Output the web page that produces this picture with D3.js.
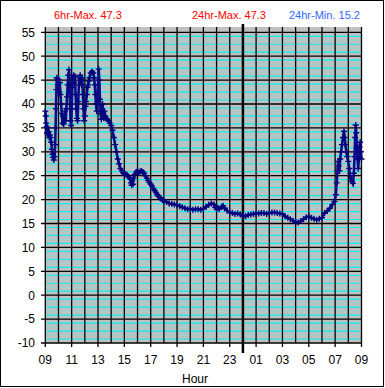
<!DOCTYPE html>
<html>
<head>
<meta charset="utf-8">
<script src="https://cdn.jsdelivr.net/npm/d3@7"></script>
<style>
  body { margin:0; background:#fff; }
  text { font-family: "Liberation Sans", Arial, sans-serif; }
</style>
</head>
<body>
<svg id="chart" width="385" height="388"></svg>
<script>

// hours since 09:00, and temperature readings
let hours = [
  0.00,0.03,0.06,0.10,0.13,0.17,0.20,0.25,0.30,0.35,0.40,0.45,0.50,0.55,0.60,0.65,0.70,0.75,0.78,0.81,
  0.84,0.87,0.90,0.95,1.00,1.05,1.10,1.15,1.20,1.25,1.30,1.35,1.40,1.45,1.50,1.55,1.60,1.65,1.70,1.75,
  1.80,1.85,1.88,1.92,1.96,2.00,2.05,2.10,2.15,2.20,2.25,2.30,2.35,2.40,2.45,2.50,2.55,2.60,2.65,2.70,
  2.75,2.80,2.85,2.90,2.95,3.00,3.05,3.10,3.15,3.20,3.25,3.30,3.35,3.45,3.55,3.65,3.70,3.75,3.80,3.85,
  3.90,3.95,4.00,4.05,4.10,4.15,4.20,4.25,4.30,4.35,4.40,4.45,4.50,4.55,4.60,4.70,4.80,4.90,5.00,5.10,
  5.20,5.30,5.40,5.50,5.60,5.70,5.80,5.90,6.00,6.10,6.20,6.30,6.40,6.50,6.55,6.60,6.65,6.70,6.80,6.90,
  7.00,7.10,7.20,7.30,7.40,7.50,7.60,7.70,7.80,7.90,8.00,8.10,8.20,8.30,8.40,8.50,8.60,8.70,8.80,8.90,
  9.00,9.20,9.40,9.60,9.80,10.00,10.20,10.40,10.60,10.80,11.00,11.20,11.40,11.60,11.80,12.00,12.20,12.40,12.60,12.80,
  12.90,13.00,13.10,13.20,13.40,13.50,13.60,13.80,14.00,14.20,14.40,14.60,14.80,15.00,15.20,15.40,15.60,15.80,16.00,16.20,
  16.40,16.60,16.80,17.00,17.20,17.40,17.60,17.80,18.00,18.20,18.40,18.60,18.80,19.00,19.20,19.40,19.60,19.80,20.00,20.20,
  20.40,20.60,20.80,21.00,21.20,21.40,21.60,21.80,21.95,22.05,22.12,22.18,22.22,22.28,22.33,22.38,22.45,22.52,22.60,22.67,
  22.72,22.78,22.85,22.92,23.00,23.07,23.13,23.20,23.28,23.35,23.42,23.47,23.52,23.56,23.60,23.65,23.70,23.75,23.80,23.85,
  23.90,23.95,24.00
];
let temps = [
  38.5,37.5,36.0,35.2,34.0,33.8,35.0,34.2,33.0,33.5,33.0,32.0,30.5,29.5,28.8,28.3,29.0,31.5,35.0,39.0,
  43.0,45.5,45.0,44.0,45.2,42.5,44.5,42.0,40.0,38.0,36.0,37.5,35.8,37.0,38.5,36.5,39.0,41.5,44.0,46.0,
  47.2,44.0,40.0,36.5,35.5,39.0,43.5,45.5,46.0,44.5,45.8,42.0,39.0,37.0,36.5,40.5,44.0,45.5,46.0,45.0,
  44.0,45.5,42.0,39.0,36.5,37.5,39.5,40.5,42.0,43.5,44.0,44.8,45.5,46.5,46.8,46.5,45.5,44.0,42.0,40.0,
  38.5,40.5,44.0,47.3,45.0,41.0,38.0,36.8,38.5,40.0,38.0,37.0,38.5,37.5,37.0,36.8,36.5,36.0,35.5,34.5,
  33.0,31.5,30.0,28.5,27.5,26.5,26.0,25.6,25.4,25.3,25.2,24.8,24.5,23.5,23.0,24.0,23.2,24.5,25.3,25.8,
  26.0,25.6,25.9,26.0,25.8,25.5,25.0,24.5,24.0,23.6,23.2,22.8,22.3,21.9,21.5,21.0,20.7,20.4,20.2,19.9,
  19.7,19.5,19.2,19.1,19.0,18.9,18.6,18.4,18.2,18.0,18.1,17.9,18.0,18.0,17.9,18.1,18.5,18.9,19.2,19.0,
  18.4,18.0,18.3,18.0,18.5,18.7,18.2,17.7,17.3,17.2,17.0,17.1,16.9,16.6,16.5,16.8,16.9,17.0,17.1,17.1,
  17.2,17.2,17.0,17.2,17.3,17.3,17.2,17.1,17.0,16.5,16.2,15.9,15.6,15.3,15.2,15.5,15.9,16.3,16.5,16.2,
  16.0,15.8,16.0,16.2,17.2,17.6,18.2,19.0,19.6,21.0,23.5,26.0,28.0,27.0,26.0,28.5,30.0,31.5,33.0,34.3,
  33.0,31.5,30.0,29.0,28.0,26.5,25.0,24.2,23.8,23.4,25.5,29.0,33.0,35.6,34.0,31.0,28.5,26.5,28.5,31.0,
  32.0,30.0,28.5
];

let yTicks = [-10,-5,0,5,10,15,20,25,30,35,40,45,50,55];
let xTickLabels = ["09","11","13","15","17","19","21","23","01","03","05","07","09"];
let headerLabels = ["6hr-Max. 47.3","24hr-Max. 47.3","24hr-Min. 15.2"];
let headerColors = ["#ff0000","#ff0000","#3366ff"];

let svg = d3.select("#chart");

let plotTop = 27,
    plotBottom = 343,
    plotLeft = 45.3,
    plotRight = 361.5;

let x = d3.scaleLinear()
          .domain([0,24])
          .range([plotLeft, plotRight]);

let y = d3.scaleLinear()
          .domain([-10,55])
          .range([plotBottom, 32.3]);

// outer frame
svg.append("rect")
   .attr("x", 0.5)
   .attr("y", 0.5)
   .attr("width", 383)
   .attr("height", 386)
   .style("fill","white")
   .style("stroke","black");

// plot background
svg.append("rect")
   .attr("x", plotLeft)
   .attr("y", plotTop)
   .attr("width", plotRight-plotLeft)
   .attr("height", plotBottom-plotTop)
   .style("fill","#c0c0c0");

// minor gridlines (cyan), five in each band
let minor = [];
yTicks.slice(0,-1).forEach((t)=>{
  for (let k=1; k<6; k++){
    minor.push({v: t + k*5/6, bright: k%2==1});
  }
});

svg.append("g")
   .selectAll("line")
   .data(minor)
   .enter()
   .append("line")
   .attr("x1", plotLeft)
   .attr("x2", plotRight)
   .attr("y1", (d)=> y(d.v))
   .attr("y2", (d)=> y(d.v))
   .attr("stroke-width", (d)=> d.bright ? 1.2 : 0.9)
   .attr("stroke", (d)=> d.bright ? "#00f4f4" : "#8fd8d8");

// major horizontal gridlines + y ticks
svg.append("g")
   .selectAll("line")
   .data(yTicks)
   .enter()
   .append("line")
   .attr("x1", 41)
   .attr("x2", plotRight)
   .attr("y1", (d)=> y(d))
   .attr("y2", (d)=> y(d))
   .attr("stroke-width", 1.3)
   .attr("stroke", "black");

// hourly vertical gridlines
svg.append("g")
   .selectAll("line")
   .data(d3.range(0,25))
   .enter()
   .append("line")
   .attr("x1", (d)=> x(d))
   .attr("x2", (d)=> x(d))
   .attr("y1", plotTop)
   .attr("y2", (d)=> d%2==0 ? plotBottom+4 : plotBottom)
   .attr("stroke-width", 1.3)
   .attr("stroke", "black");

// midnight marker
svg.append("line")
   .attr("x1", x(15))
   .attr("x2", x(15))
   .attr("y1", 24)
   .attr("y2", 353)
   .attr("stroke-width", 2.5)
   .attr("stroke", "black");

// y labels
svg.append("g")
   .selectAll("text")
   .data(yTicks)
   .enter()
   .append("text")
   .attr("x", 35)
   .attr("y", (d)=> y(d)+4.3)
   .attr("text-anchor","end")
   .style("font-size","12px")
   .style("fill","black")
   .text((d)=> d);

// x labels
svg.append("g")
   .selectAll("text")
   .data(xTickLabels)
   .enter()
   .append("text")
   .attr("x", (d,i)=> x(i*2))
   .attr("y", 363.5)
   .attr("text-anchor","middle")
   .style("font-size","12px")
   .style("fill","black")
   .text((d)=> d);

svg.append("text")
   .attr("x", 195)
   .attr("y", 383)
   .attr("text-anchor","middle")
   .style("font-size","12px")
   .text("Hour");

// header stats
let headerX = [54, 192, 289];
svg.append("g")
   .selectAll("text")
   .data(headerLabels)
   .enter()
   .append("text")
   .attr("x", (d,i)=> headerX[i])
   .attr("y", 19)
   .style("font-size","11px")
   .style("fill", (d,i)=> headerColors[i])
   .text((d)=> d);

// temperature series
let pts = hours.map((h,i)=> ({h: h, v: temps[i]}));

let line = d3.line()
             .x((d)=> x(d.h))
             .y((d)=> y(d.v));

svg.append("path")
   .datum(pts)
   .attr("d", line)
   .style("fill","none")
   .attr("stroke-width", 2.6)
   .attr("stroke", "#0c0c88");

svg.append("g")
   .selectAll("path")
   .data(pts)
   .enter()
   .append("path")
   .attr("transform", (d)=> "translate(" + x(d.h) + "," + y(d.v) + ")")
   .attr("d", "M-3,0H3M0,-3V3")
   .attr("stroke-width", 1.4)
   .attr("stroke", "#000080");

</script>
</body>
</html>
